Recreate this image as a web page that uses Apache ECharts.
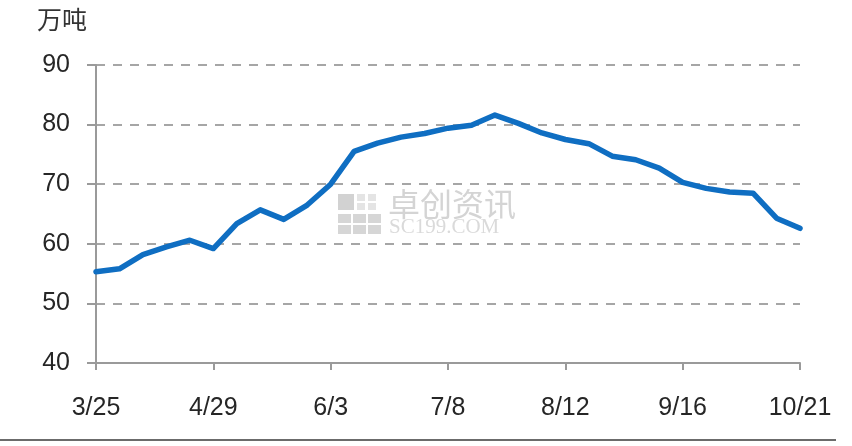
<!DOCTYPE html>
<html lang="zh-CN">
<head>
    <meta charset="UTF-8">
    <title>万吨</title>
    <script src="https://cdn.jsdelivr.net/npm/echarts@6/dist/echarts.min.js"></script>
    <style>
        html, body { margin: 0; padding: 0; background: #ffffff; }
        #main { width: 852px; height: 446px; }
    </style>
</head>
<body>
    <div id="main"></div>
    <script type="text/javascript">
        // 周度日期
        var weeks = ['3/25', '4/1', '4/8', '4/15', '4/22', '4/29', '5/6', '5/13', '5/20', '5/27',
            '6/3', '6/10', '6/17', '6/24', '7/1', '7/8', '7/15', '7/22', '7/29', '8/5',
            '8/12', '8/19', '8/26', '9/2', '9/9', '9/16', '9/23', '9/30', '10/7', '10/14', '10/21'];
        // 数值（万吨）
        var values = [55.3, 55.8, 58.2, 59.5, 60.6, 59.2, 63.4, 65.7, 64.1, 66.5,
            70.0, 75.5, 76.9, 77.9, 78.5, 79.4, 79.9, 81.6, 80.2, 78.6,
            77.5, 76.8, 74.7, 74.1, 72.7, 70.3, 69.3, 68.7, 68.5, 64.3, 62.6];
        var unitName = '万吨';

        var myChart = echarts.init(document.getElementById('main'));
        var labelFont = 'Liberation Sans, Noto Sans, sans-serif';

        // 水印小方块
        var logo = [];
        [[0, 0, 16, 16, '#d2d2d2'], [19, 0, 8, 7, '#e4e4e4'], [30, 0, 8, 7, '#e4e4e4'],
         [19, 9, 8, 7, '#e4e4e4'], [30, 9, 8, 7, '#e4e4e4'],
         [0, 20, 13, 9, '#d6d6d6'], [15, 20, 13, 9, '#d6d6d6'], [30, 20, 13, 9, '#d6d6d6'],
         [0, 31, 13, 9, '#d6d6d6'], [15, 31, 13, 9, '#d6d6d6'], [30, 31, 13, 9, '#d6d6d6']
        ].forEach(function (r) {
            logo.push({ type: 'rect', shape: { x: r[0], y: r[1], width: r[2], height: r[3] }, style: { fill: r[4] } });
        });

        var option = {
            animation: false,
            grid: { left: 96, right: 52, top: 65, bottom: 83 },
            xAxis: {
                type: 'category',
                data: weeks,
                boundaryGap: false,
                axisLine: { lineStyle: { color: '#9a9a9a', width: 2 } },
                axisTick: { interval: 4, length: 7, lineStyle: { color: '#9a9a9a', width: 2 } },
                axisLabel: {
                    interval: 4, margin: 33,
                    color: '#262626', fontSize: 25, fontFamily: labelFont
                },
                splitLine: { show: false }
            },
            yAxis: {
                type: 'value',
                min: 40, max: 90, interval: 10,
                axisLine: { show: true, lineStyle: { color: '#9a9a9a', width: 2 } },
                axisTick: { show: true, length: 9, lineStyle: { color: '#9a9a9a', width: 2 } },
                axisLabel: {
                    margin: 26,
                    color: '#262626', fontSize: 25, fontFamily: labelFont
                },
                splitLine: {
                    lineStyle: { color: '#a6a6a6', width: 2, type: [9, 8] }
                }
            },
            series: [{
                type: 'line',
                data: values,
                showSymbol: false,
                symbol: 'none',
                lineStyle: { color: '#0f6ec2', width: 5.5, join: 'round', cap: 'round' },
                z: 5
            }],
            graphic: [
                {
                    type: 'text', left: 37, top: 7,
                    style: { text: unitName, fill: '#333', font: '25px "Noto Sans CJK SC"' }
                },
                // 水印
                {
                    type: 'group', left: 338, top: 188, silent: true, z: 1,
                    children: logo.concat([
                        {
                            type: 'text', x: 50, y: -6,
                            style: { text: '卓创资讯', fill: '#d4d4d4', font: '32px "Noto Sans CJK SC"' }
                        },
                        {
                            type: 'text', x: 51, y: 23,
                            style: { text: 'SC199.COM', fill: '#dadada', font: '21px "Liberation Serif"' }
                        }
                    ])
                },
                {
                    type: 'line', silent: true,
                    shape: { x1: 0, y1: 440, x2: 836, y2: 440 },
                    style: { stroke: '#6b6b6b', lineWidth: 2 }
                }
            ]
        };

        myChart.setOption(option);
    </script>
</body>
</html>
